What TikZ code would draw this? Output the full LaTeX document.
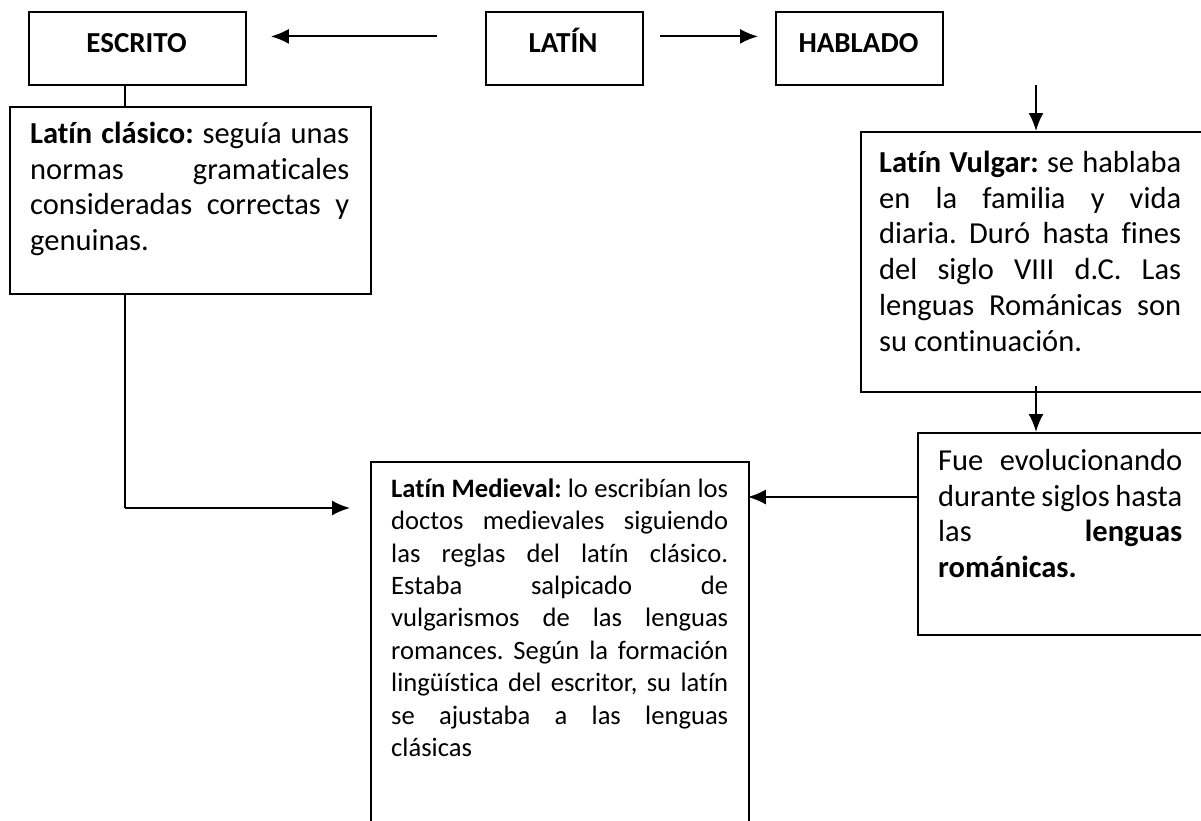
\documentclass[tikz,border=0pt]{standalone}
\usepackage{fontspec}
\setmainfont{Carlito}[Ligatures={NoCommon,NoContextual},Contextuals={NoAlternate}]
\usetikzlibrary{arrows.meta}
\newcommand{\firstline}{\vrule width 0pt height 30pt depth 0pt\relax}
\tolerance=10000
\hbadness=10000
\hfuzz=20pt
\frenchspacing
\begin{document}
\begin{tikzpicture}[x=1pt,y=-1pt,
  box/.style={draw, line width=1.8pt, inner sep=0pt, anchor=north west},
  body/.style={inner sep=0pt, anchor=north west, align=justify,
    font=\fontsize{30.5}{35.8}\selectfont\frenchspacing},
  small/.style={font=\fontsize{26.6}{32.4}\selectfont\frenchspacing},
  title/.style={inner sep=0pt, anchor=base, font=\fontsize{29}{35.4}\selectfont\bfseries},
  arr/.style={line width=2pt, -{Latex[length=18pt,width=15pt]}},
  link/.style={line width=2pt}]
\useasboundingbox (0,0) rectangle (1201,820);
% boxes
\node[box, minimum width=217pt, minimum height=73pt] (escrito) at (28,11) {};
\node[box, minimum width=157pt, minimum height=73pt] (latin) at (485,11) {};
\node[box, minimum width=167pt, minimum height=73pt] (hablado) at (775,11) {};
\node[box, minimum width=361pt, minimum height=187pt] (clasico) at (9,106) {};
\node[box, minimum width=360pt, minimum height=260pt] (vulgar) at (860,131) {};
\node[box, minimum width=300pt, minimum height=202pt] (fue) at (917,432) {};
\node[box, minimum width=378pt, minimum height=380pt] (medieval) at (370,461) {};
% titles
\node[title] (escritoT) at (136.5,52) {ESCRITO};
\node[title] (latinT) at (563,52) {LATÍN};
\node[title] (habladoT) at (858.5,52) {HABLADO};
% texts
\node[body, text width=319pt] (clasicoT) at (30,113)
  {\firstline\textbf{Latín clásico:} seguía unas\linebreak normas gramaticales\linebreak consideradas correctas y\linebreak genuinas.};
\node[body, text width=302pt] (vulgarT) at (879,142)
  {\firstline\textbf{Latín Vulgar:} se hablaba\linebreak en la familia y vida\linebreak diaria. Duró hasta fines\linebreak del siglo VIII d.C. Las\linebreak lenguas Románicas son\linebreak su continuación.};
\node[body, text width=244pt] (fueT) at (938,440)
  {\firstline Fue evolucionando\linebreak durante siglos hasta\linebreak las \textbf{lenguas}\linebreak \textbf{románicas.}};
\node[body, small, text width=337pt] (medievalT) at (391,467)
  {\firstline\textbf{Latín Medieval:} lo escribían los\linebreak doctos medievales siguiendo\linebreak las reglas del latín clásico.\linebreak Estaba salpicado de\linebreak vulgarismos de las lenguas\linebreak romances. Según la formación\linebreak lingüística del escritor, su latín\linebreak se ajustaba a las lenguas\linebreak clásicas};
% connectors
\draw[arr, shorten <=48pt, shorten >=24pt] ([yshift=12pt]latin.west) -- ([yshift=12pt]escrito.east);
\draw[arr, shorten <=16pt, shorten >=17pt] ([yshift=12pt]latin.east) -- ([yshift=12pt]hablado.west);
\draw[link] (escrito.south -| clasico.south west) ++(116,0) coordinate (c1) -- (c1 |- clasico.north);
\coordinate (bend) at (125,508);
\draw[link] (clasico.south -| bend) -- (bend);
\draw[arr, shorten >=20pt] (bend) -- (bend -| medieval.west);
\coordinate (vx) at (1036,0);
\draw[arr, shorten <=-1pt] (hablado.south -| vx) -- (vulgar.north -| vx);
\draw[arr, shorten <=-7pt] (vulgar.south -| vx) -- (fue.north -| vx);
\coordinate (hy) at (0,497);
\draw[arr, shorten >=-2pt] (fue.west |- hy) -- (medieval.east |- hy);
\end{tikzpicture}
\end{document}
